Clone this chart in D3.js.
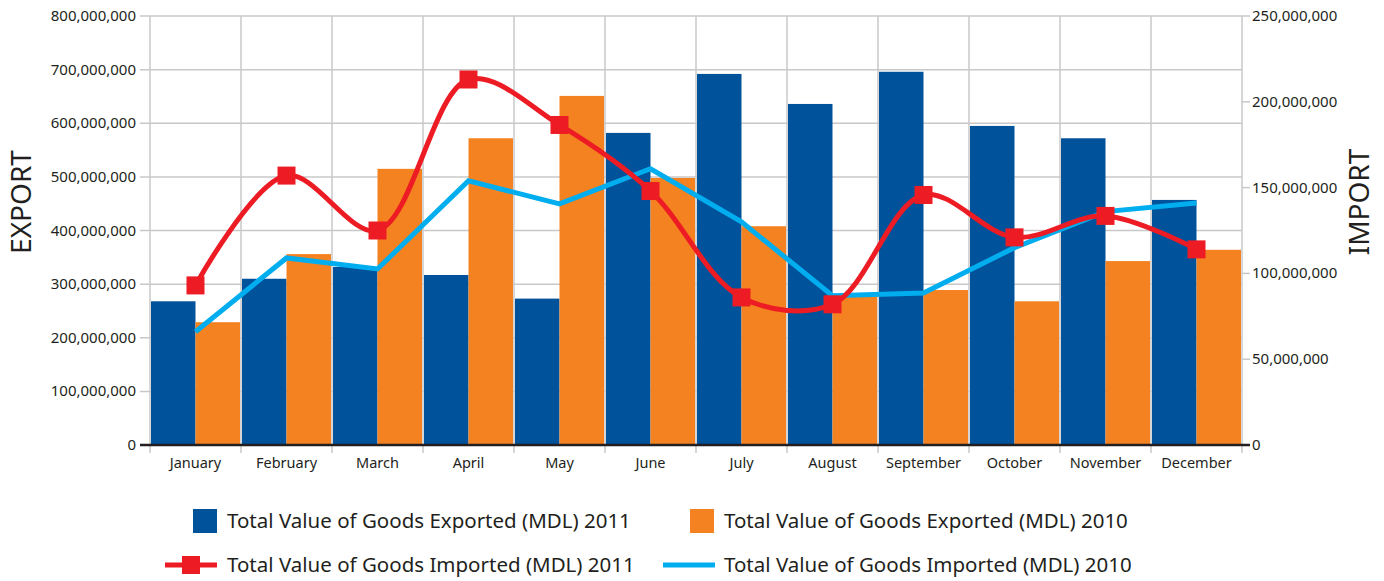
<!DOCTYPE html>
<html>
<head>
<meta charset="utf-8">
<script src="https://cdn.jsdelivr.net/npm/d3@7"></script>
<style>
  body { margin: 0; background: #fff; }
  text { font-family: "Noto Sans", sans-serif; fill: #231f20; }
</style>
</head>
<body>
<div class="chart"></div>
<script>
const months = ["January", "February", "March", "April", "May", "June", "July",
                "August", "September", "October", "November", "December"];
const exported2011 = [268e6, 310e6, 332e6, 317e6, 273e6, 582e6, 692e6, 636e6, 696e6, 595e6, 572e6, 457e6];
const exported2010 = [229e6, 356e6, 515e6, 572e6, 651e6, 498e6, 408e6, 280e6, 289e6, 268e6, 343e6, 364e6];
const imported2011 = [93e6, 157e6, 125e6, 213e6, 186.5e6, 148e6, 86e6, 82e6, 145.7e6, 121e6, 133.5e6, 114e6];
const imported2010 = [66e6, 109e6, 102.6e6, 154e6, 140.5e6, 161e6, 130e6, 87e6, 88.6e6, 115e6, 136e6, 141e6];
const exportTicks = [0, 100e6, 200e6, 300e6, 400e6, 500e6, 600e6, 700e6, 800e6];
const importTicks = [0, 50e6, 100e6, 150e6, 200e6, 250e6];
const legendNames = ["Total Value of Goods Exported (MDL) 2011", "Total Value of Goods Exported (MDL) 2010",
                     "Total Value of Goods Imported (MDL) 2011", "Total Value of Goods Imported (MDL) 2010"];

const width = 1384, height = 581;
const plotL = 150, plotR = 1242, plotT = 16, plotB = 445;
const blue = "#00529b", orange = "#f58220", red = "#ed1c24", sky = "#00aeef", grid = "#c8c8c8";

const svg = d3.select(".chart").append("svg")
  .attr("width", width).attr("height", height);

const x = d3.scaleBand().domain(months).range([plotL, plotR]);
const yL = d3.scaleLinear().domain([0, 800e6]).range([plotB, plotT]);
const yR = d3.scaleLinear().domain([0, 250e6]).range([plotB, plotT]);
const fmt = d3.format(",");

// grid lines
svg.append("g").selectAll("line").data(exportTicks.slice(1)).enter().append("line")
  .attr("x1", plotL - 10).attr("x2", plotR)
  .attr("y1", d => yL(d)).attr("y2", d => yL(d))
  .attr("stroke", grid).attr("stroke-width", 1.5);
svg.append("g").selectAll("line").data(importTicks.slice(1)).enter().append("line")
  .attr("x1", plotR).attr("x2", plotR + 8)
  .attr("y1", d => yR(d)).attr("y2", d => yR(d))
  .attr("stroke", grid).attr("stroke-width", 1.5);
const edges = months.map(m => x(m)).concat([plotR]);
svg.append("g").selectAll("line").data(edges).enter().append("line")
  .attr("x1", d => d).attr("x2", d => d)
  .attr("y1", plotT).attr("y2", plotB + 8)
  .attr("stroke", grid).attr("stroke-width", 1.5);

// bars
const half = x.bandwidth() / 2;
svg.append("g").selectAll("rect").data(exported2011).enter().append("rect")
  .attr("x", (d, i) => x(months[i]) + 1)
  .attr("y", d => yL(d))
  .attr("width", half - 1)
  .attr("height", d => plotB - yL(d))
  .attr("fill", blue);
svg.append("g").selectAll("rect").data(exported2010).enter().append("rect")
  .attr("x", (d, i) => x(months[i]) + half)
  .attr("y", d => yL(d))
  .attr("width", half - 1)
  .attr("height", d => plotB - yL(d))
  .attr("fill", orange);

// bottom axis line
svg.append("line")
  .attr("x1", plotL - 10).attr("x2", plotR + 8)
  .attr("y1", plotB).attr("y2", plotB)
  .attr("stroke", "#231f20").attr("stroke-width", 2.5);

// lines
const cx = (d, i) => x(months[i]) + half;
svg.append("path").datum(imported2010)
  .attr("d", d3.line().x(cx).y(d => yR(d)))
  .attr("fill", "none").attr("stroke", sky).attr("stroke-width", 5);
svg.append("path").datum(imported2011)
  .attr("d", d3.line().x(cx).y(d => yR(d)).curve(d3.curveCatmullRom.alpha(0.5)))
  .attr("fill", "none").attr("stroke", red).attr("stroke-width", 5);
svg.append("g").selectAll("rect").data(imported2011).enter().append("rect")
  .attr("x", (d, i) => cx(d, i) - 9)
  .attr("y", d => yR(d) - 9)
  .attr("width", 18).attr("height", 18)
  .attr("fill", red);

// tick labels
svg.append("g").selectAll("text").data(exportTicks).enter().append("text")
  .attr("x", 136).attr("y", d => yL(d) + 5)
  .attr("text-anchor", "end").attr("font-size", 15)
  .text(d => fmt(d));
svg.append("g").selectAll("text").data(importTicks).enter().append("text")
  .attr("x", 1252).attr("y", d => yR(d) + 5)
  .attr("text-anchor", "start").attr("font-size", 15)
  .text(d => fmt(d));
svg.append("g").selectAll("text").data(months).enter().append("text")
  .attr("x", d => x(d) + half).attr("y", 468)
  .attr("text-anchor", "middle").attr("font-size", 14.5)
  .text(d => d);

// axis titles
svg.append("text")
  .attr("transform", "translate(31,202) rotate(-90)")
  .attr("text-anchor", "middle").attr("font-size", 28)
  .text("EXPORT");
svg.append("text")
  .attr("transform", "translate(1369,202) rotate(-90)")
  .attr("text-anchor", "middle").attr("font-size", 28)
  .text("IMPORT");

// legend
const legend = svg.append("g").attr("font-size", 20.5);
legend.append("rect").attr("x", 193).attr("y", 509).attr("width", 24).attr("height", 24).attr("fill", blue);
legend.append("rect").attr("x", 690).attr("y", 509).attr("width", 24).attr("height", 24).attr("fill", orange);
legend.append("line").attr("x1", 165).attr("x2", 217).attr("y1", 565).attr("y2", 565)
  .attr("stroke", red).attr("stroke-width", 5);
legend.append("rect").attr("x", 182).attr("y", 556).attr("width", 18).attr("height", 18).attr("fill", red);
legend.append("line").attr("x1", 663).attr("x2", 715).attr("y1", 565).attr("y2", 565)
  .attr("stroke", sky).attr("stroke-width", 5);
const lx = [227, 724, 227, 724], ly = [528, 528, 572, 572];
legend.selectAll("text.l").data(legendNames).enter().append("text")
  .attr("x", (d, i) => lx[i]).attr("y", (d, i) => ly[i])
  .text(d => d);
</script>
</body>
</html>
